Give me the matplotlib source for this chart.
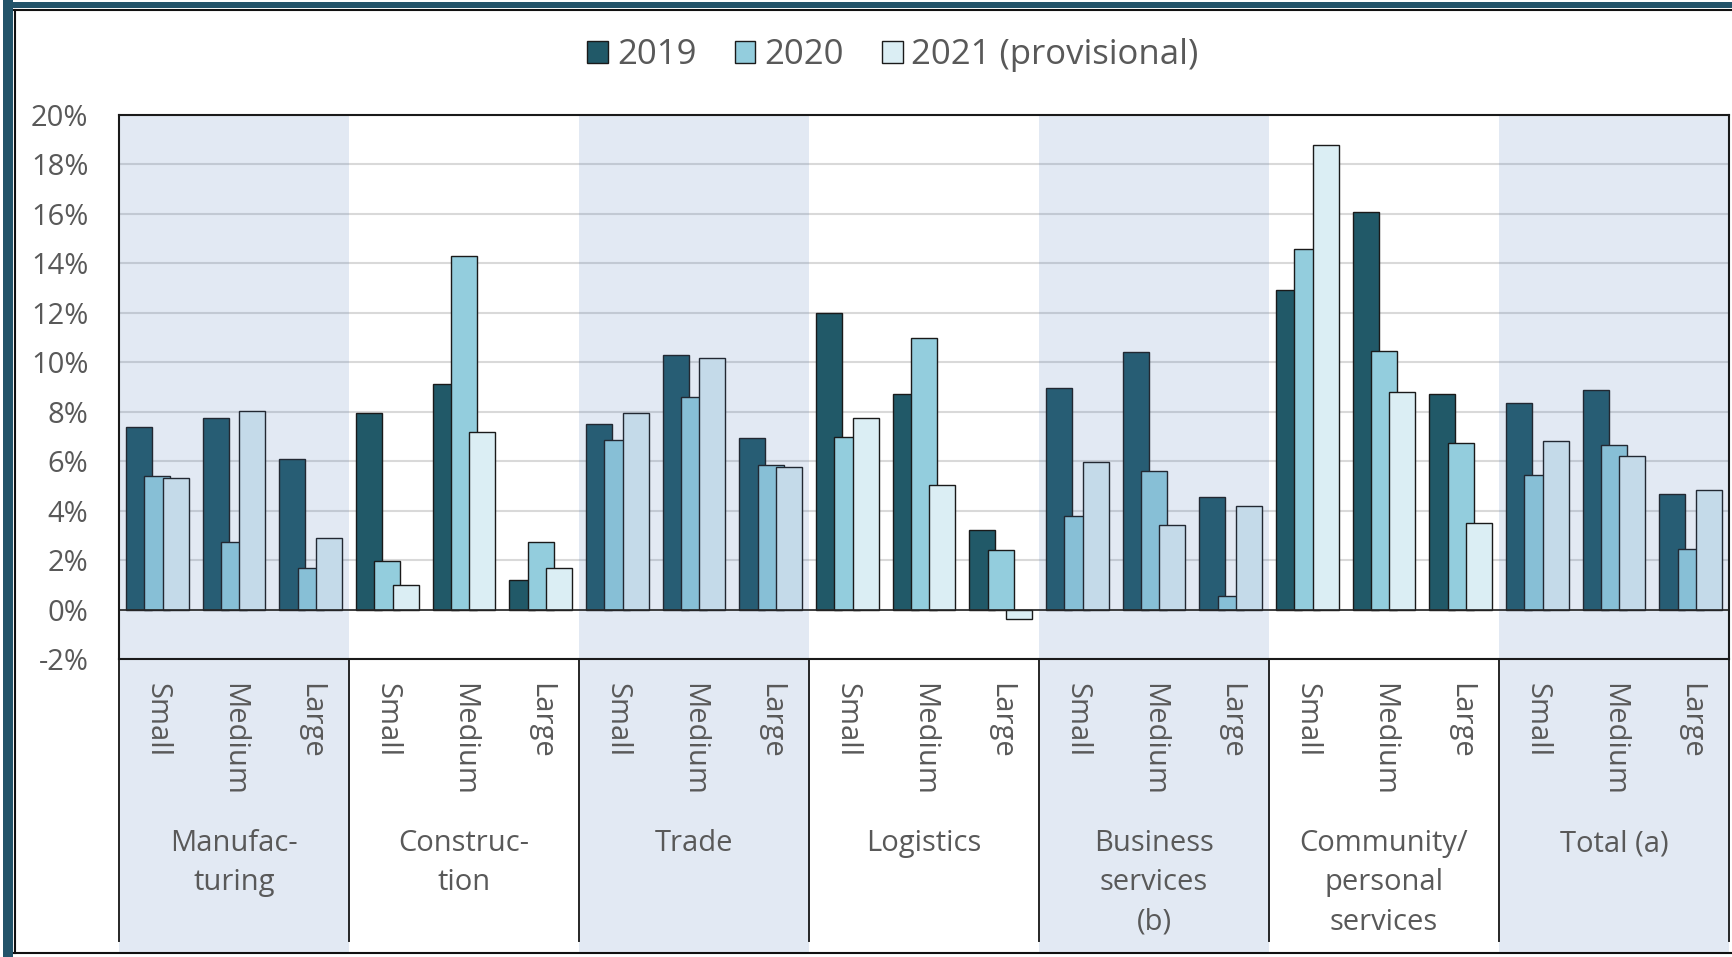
import matplotlib
matplotlib.use('Agg')
import matplotlib.pyplot as plt
import numpy as np
from matplotlib.patches import Rectangle
from matplotlib.lines import Line2D
from matplotlib.transforms import blended_transform_factory
from matplotlib.ticker import FuncFormatter

plt.rcParams['font.family'] = ['Open Sans', 'DejaVu Sans']

# ---------------- data ----------------
sectors = ["Manufac-\nturing", "Construc-\ntion", "Trade", "Logistics",
           "Business\nservices\n(b)", "Community/\npersonal\nservices", "Total (a)"]
sizes = ["Small", "Medium", "Large"]
series_names = ["2019", "2020", "2021 (provisional)"]
v2019 = [7.40, 7.73, 6.10, 7.96, 9.12, 1.19, 7.50, 10.29, 6.95, 12.00, 8.70, 3.20,
         8.94, 10.40, 4.57, 12.93, 16.06, 8.70, 8.34, 8.89, 4.69]
v2020 = [5.39, 2.74, 1.66, 1.96, 14.28, 2.72, 6.86, 8.60, 5.84, 6.97, 11.00, 2.41,
         3.79, 5.60, 0.54, 14.58, 10.45, 6.72, 5.45, 6.66, 2.46]
v2021 = [5.31, 8.04, 2.91, 1.01, 7.17, 1.69, 7.96, 10.16, 5.75, 7.74, 5.03, -0.40,
         5.96, 3.40, 4.19, 18.77, 8.79, 3.51, 6.81, 6.20, 4.85]
yticks = list(range(-2, 21, 2))
shaded_groups = [0, 2, 4, 6]

# ---------------- styling ----------------
W, H = 1732, 957
colors = ['#215968', '#93cddd', '#dbeef4']
text_color = '#595959'
frame_teal = '#23546a'

fig = plt.figure(figsize=(W / 100, H / 100), dpi=100)
fig.patch.set_facecolor('white')

def fx(px):
    return px / W

def fy(py):
    return 1 - py / H

ax_left, ax_right, ax_top, ax_bottom = 119, 1729, 115, 659
ax = fig.add_axes([fx(ax_left), fy(ax_bottom), fx(ax_right - ax_left), (ax_bottom - ax_top) / H])

n = len(sectors) * len(sizes)
x = np.arange(n)
step, width = 0.24, 0.34
containers = []
for i, (vals, name) in enumerate(zip([v2019, v2020, v2021], series_names)):
    c = ax.bar(x + (i - 1) * step, vals, width, color=colors[i], edgecolor='#1a1a1a',
               linewidth=1.0, label=name, zorder=2 + i * 0.01)
    containers.append(c)

ax.set_xlim(-0.5, n - 0.5)
ax.set_ylim(-2, 20)
ax.set_yticks(yticks)
ax.yaxis.set_major_formatter(FuncFormatter(lambda v, p: f"{int(v)}%"))
ax.tick_params(axis='y', length=0, pad=22, labelsize=21, labelcolor=text_color)
ax.set_xticks([])
ax.yaxis.grid(True, color='#d9d9d9', linewidth=1.5, zorder=0)
ax.set_axisbelow(True)
for s in ax.spines.values():
    s.set_color('#1a1a1a')
    s.set_linewidth(1.5)
    s.set_zorder(5)
ax.axhline(0, color='#262626', linewidth=1.2, zorder=4)

trans = blended_transform_factory(ax.transData, ax.transAxes)
band_bottom = (ax_bottom - 952) / (ax_bottom - ax_top)
divider_bottom = (ax_bottom - 941) / (ax_bottom - ax_top)

# shaded bands (overlay, also over label area)
for g in shaded_groups:
    ax.add_patch(Rectangle((g * 3 - 0.5, band_bottom), 3, 1 - band_bottom, transform=trans,
                           facecolor='#4c77b5', alpha=0.16, edgecolor='none',
                           zorder=3, clip_on=False))

# dividers below axis
for b in np.arange(-0.5, n, 3):
    ax.add_line(Line2D([b, b], [0, divider_bottom], transform=trans, color='#262626',
                       linewidth=1.4, clip_on=False, zorder=5))

# labels
lab_y = (ax_bottom - 683) / (ax_bottom - ax_top)
for i in range(n):
    ax.text(x[i], lab_y, sizes[i % 3], transform=trans, rotation=270, ha='center', va='top',
            color=text_color, fontsize=21, zorder=6)
grp_y = (ax_bottom - 829) / (ax_bottom - ax_top)
for g, name in enumerate(sectors):
    ax.text(g * 3 + 1, grp_y, name, transform=trans, ha='center', va='top',
            multialignment='center', color=text_color, fontsize=21, linespacing=1.47, zorder=6)

# legend
fig.legend(handles=containers, labels=series_names, loc='center',
           bbox_to_anchor=(fx(893), fy(55)), ncol=3, frameon=False, fontsize=25,
           handlelength=0.6, handleheight=0.6, handletextpad=0.25, columnspacing=1.1,
           labelcolor=text_color, borderaxespad=0)

# outer frame
fig.add_artist(Rectangle((fx(3), 0), fx(10), 1, transform=fig.transFigure,
                         facecolor=frame_teal, edgecolor='none'))
fig.add_artist(Rectangle((fx(3), fy(8)), 1, 6 / H, transform=fig.transFigure,
                         facecolor=frame_teal, edgecolor='none'))
fig.add_artist(Line2D([fx(14.5), fx(14.5)], [fy(9.5), fy(953)], transform=fig.transFigure,
                      color='#111111', linewidth=1.5))
fig.add_artist(Line2D([fx(14), 1], [fy(9.5), fy(9.5)], transform=fig.transFigure,
                      color='#111111', linewidth=1.5))
fig.add_artist(Line2D([fx(14), 1], [fy(953), fy(953)], transform=fig.transFigure,
                      color='#111111', linewidth=1.5))

fig.savefig('out.png', dpi=100)
